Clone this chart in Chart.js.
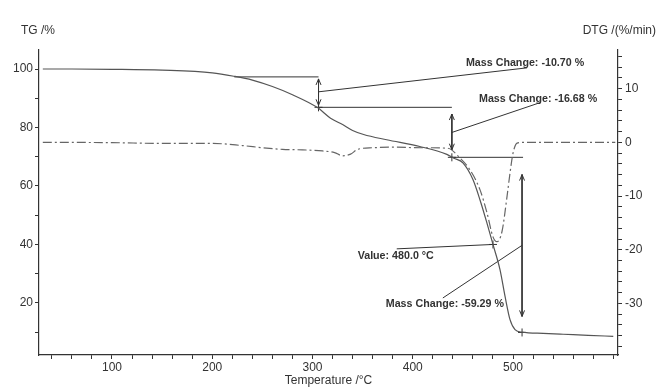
<!doctype html>
<html lang="en">
<head>
  <meta charset="utf-8">
  <title>TG / DTG</title>
  <script src="https://cdn.jsdelivr.net/npm/chart.js@4.4.1/dist/chart.umd.min.js"></script>
  <style>
    html, body { margin: 0; padding: 0; background: #fff; }
    #wrap { width: 661px; height: 389px; }
  </style>
</head>
<body>
  <div id="wrap"><canvas id="myChart"></canvas></div>
  <script>
    // TG curve: temperature (°C) / mass (%)
    const tgTemp = [31, 60, 100, 150, 200, 222, 240, 260, 280, 305, 318, 330, 340, 351, 374, 407, 434, 441, 450, 460, 467, 474, 480, 487, 492, 497, 502, 509, 530, 550, 575, 600];
    const tgMass = [100.0, 100.0, 99.9, 99.6, 98.7, 97.5, 96.2, 94.0, 91.2, 86.8, 83.2, 81.0, 79.0, 77.6, 75.8, 73.5, 70.8, 69.5, 67.9, 62.2, 55.3, 47.3, 40.0, 31.4, 22.3, 14.3, 10.9, 10.0, 9.6, 9.3, 8.9, 8.6];

    // DTG curve: temperature (°C) / rate (%/min)
    const dtgTemp = [31, 100, 150, 200, 230, 250, 270, 290, 310, 322, 330, 338, 345, 360, 380, 410, 435, 447, 457, 467, 474, 480, 484, 489, 494, 497, 500, 504, 510, 550, 602];
    const dtgRate = [0.0, -0.05, -0.2, -0.2, -0.6, -1.0, -1.3, -1.4, -1.6, -1.9, -2.5, -2.2, -1.3, -1.0, -0.9, -1.0, -1.1, -2.9, -5.1, -8.8, -13.1, -17.6, -18.5, -16.6, -10.1, -5.7, -2.0, -0.15, 0.0, 0.0, 0.0];

    // ticks
    const xTickValues = [40, 60, 80, 100, 120, 140, 160, 180, 200, 220, 240, 260, 280, 300, 320, 340, 360, 380, 400, 420, 440, 460, 480, 500, 520, 540, 560, 580, 600];
    const xTickLabels = [100, 200, 300, 400, 500];
    const tgTickValues = [10, 20, 30, 40, 50, 60, 70, 80, 90, 100];
    const tgTickLabels = [20, 40, 60, 80, 100];
    const dtgTickValues = [-38, -36, -34, -32, -30, -28, -26, -24, -22, -20, -18, -16, -14, -12, -10, -8, -6, -4, -2, 0, 2, 4, 6, 8, 10, 12, 14, 16];
    const dtgTickLabels = [-30, -20, -10, 0, 10];

    // evaluation marks (°C, TG %)
    const stepLines = [
      [222, 97.3, 306, 97.3],
      [306, 86.9, 439, 86.9],
      [439, 69.8, 510, 69.8]
    ];
    const arrowLines = [
      [306, 96.6, 306, 87.6],
      [439, 84.6, 439, 72.4],
      [509, 63.9, 509, 15.4]
    ];
    const leaderLines = [
      [306, 92.2, 514, 100.4],
      [439, 78.3, 527, 88.5],
      [384, 38.5, 480, 40.0],
      [509, 39.7, 430, 21.7]
    ];
    const crossTemp = [306, 439, 509, 480];
    const crossMass = [86.9, 69.8, 9.9, 40.0];
    const noteText = ['Mass Change: -10.70 %', 'Mass Change: -16.68 %', 'Value: 480.0 °C', 'Mass Change: -59.29 %'];
    const noteTemp = [512, 525, 383, 432];
    const noteMass = [102.1, 89.8, 36.2, 19.5];

    const ink = '#333';
    const font = "'Liberation Sans', Arial, sans-serif";

    function toPoints(xs, ys) {
      return xs.map((x, i) => ({ x: x, y: ys[i] }));
    }

    const datasets = [{
      label: 'TG',
      data: toPoints(tgTemp, tgMass),
      yAxisID: 'y',
      borderColor: '#555',
      borderWidth: 1.2,
      pointRadius: 0,
      cubicInterpolationMode: 'monotone'
    }, {
      label: 'DTG',
      data: toPoints(dtgTemp, dtgRate),
      yAxisID: 'y2',
      borderColor: '#666',
      borderWidth: 1.2,
      borderDash: [9, 3, 2, 3],
      pointRadius: 0,
      cubicInterpolationMode: 'monotone'
    }];

    stepLines.concat(arrowLines, leaderLines).forEach(s => {
      datasets.push({
        data: [{ x: s[0], y: s[1] }, { x: s[2], y: s[3] }],
        yAxisID: 'y',
        borderColor: ink,
        borderWidth: 1,
        pointRadius: 0
      });
    });

    datasets.push({
      data: toPoints(crossTemp, crossMass),
      yAxisID: 'y',
      showLine: false,
      pointStyle: 'cross',
      pointRadius: 4,
      borderColor: ink,
      borderWidth: 1
    });

    // arrow heads + notes + axis captions
    const notes = {
      id: 'notes',
      afterDatasetsDraw(chart) {
        const ctx = chart.ctx;
        const xs = chart.scales.x, ys = chart.scales.y;
        ctx.save();
        ctx.strokeStyle = ink;
        ctx.lineWidth = 1;
        arrowLines.forEach(a => {
          const x = xs.getPixelForValue(a[0]);
          const top = ys.getPixelForValue(a[1]);
          const bot = ys.getPixelForValue(a[3]);
          ctx.beginPath();
          ctx.moveTo(x - 2.5, top + 6); ctx.lineTo(x, top); ctx.lineTo(x + 2.5, top + 6);
          ctx.moveTo(x - 2.5, bot - 6); ctx.lineTo(x, bot); ctx.lineTo(x + 2.5, bot - 6);
          ctx.stroke();
        });
        ctx.fillStyle = ink;
        ctx.font = 'bold 10.7px ' + font;
        ctx.textAlign = 'center';
        ctx.textBaseline = 'middle';
        noteText.forEach((t, i) => {
          ctx.fillText(t, xs.getPixelForValue(noteTemp[i]), ys.getPixelForValue(noteMass[i]));
        });
        ctx.font = '12px ' + font;
        ctx.textAlign = 'left';
        ctx.fillText('TG /%', 21, chart.chartArea.top - 19);
        ctx.textAlign = 'right';
        ctx.fillText('DTG /(%/min)', chart.width - 5, chart.chartArea.top - 19);
        ctx.restore();
      }
    };

    function tickCfg(values, labels) {
      return {
        autoSkip: false,
        maxRotation: 0,
        color: ink,
        font: { size: 12, family: font },
        callback: v => labels.includes(v) ? String(v) : ''
      };
    }

    const chart = new Chart(document.getElementById('myChart'), {
      type: 'line',
      data: { datasets: datasets },
      plugins: [notes],
      options: {
        responsive: true,
        maintainAspectRatio: false,
        animation: false,
        layout: { padding: { top: 50, left: 0, right: 0, bottom: 0 } },
        plugins: { legend: { display: false }, tooltip: { enabled: false } },
        scales: {
          x: {
            type: 'linear',
            min: 27.2,
            max: 604.7,
            afterBuildTicks: axis => { axis.ticks = xTickValues.map(v => ({ value: v })); },
            afterFit: axis => { axis.height = 34; },
            ticks: Object.assign(tickCfg(xTickValues, xTickLabels), { padding: 1 }),
            grid: { drawOnChartArea: false, tickLength: 4, color: ink },
            border: { color: ink, width: 1.2 },
            title: { display: true, text: 'Temperature /°C', color: ink, font: { size: 12, family: font }, padding: { top: 0, bottom: 1 } }
          },
          y: {
            position: 'left',
            min: 2.2,
            max: 106.5,
            afterBuildTicks: axis => { axis.ticks = tgTickValues.map(v => ({ value: v })); },
            afterFit: axis => { axis.width = 39; },
            ticks: Object.assign(tickCfg(tgTickValues, tgTickLabels), { padding: 2 }),
            grid: { drawOnChartArea: false, tickLength: 4, color: ink },
            border: { color: ink, width: 1.2 }
          },
          y2: {
            position: 'right',
            min: -39.6,
            max: 17.2,
            afterBuildTicks: axis => { axis.ticks = dtgTickValues.map(v => ({ value: v })); },
            afterFit: axis => { axis.width = 43; },
            ticks: Object.assign(tickCfg(dtgTickValues, dtgTickLabels), { padding: 3 }),
            grid: { drawOnChartArea: false, tickLength: 4, color: ink },
            border: { color: ink, width: 1.2 }
          }
        }
      }
    });
  </script>
</body>
</html>
